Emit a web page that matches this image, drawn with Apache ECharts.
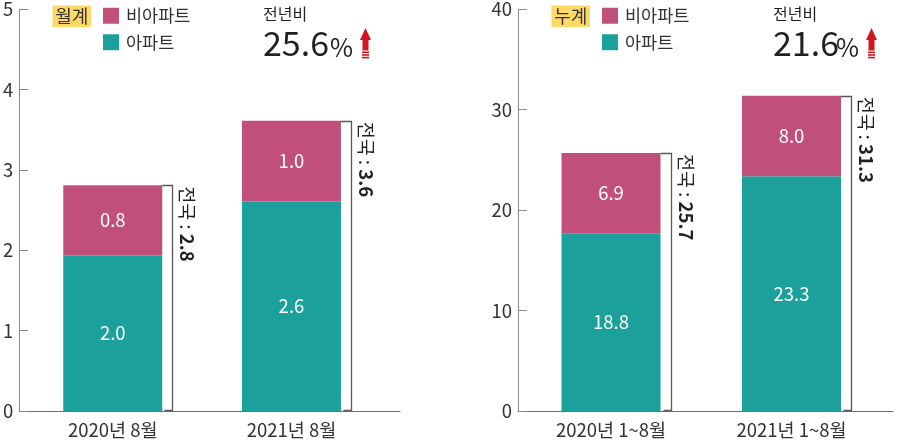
<!DOCTYPE html>
<html><head><meta charset="utf-8">
<script src="https://cdn.jsdelivr.net/npm/echarts@6/dist/echarts.min.js"></script>
<style>html,body{margin:0;padding:0;background:#fff}#c{width:900px;height:441px}</style>
</head><body><div id="c"></div>
<script>
const FONT = '"Noto Sans CJK KR", "Noto Sans", sans-serif';

// ---- data ----
const seriesNames = ['비아파트', '아파트'];
const monthCats = ['2020년 8월', '2021년 8월'];
const monthApt = [1.93, 2.6];
const monthNonApt = [0.87, 1.0];
const monthAptLabels = ['2.0', '2.6'];
const monthNonAptLabels = ['0.8', '1.0'];
const monthTotalLabels = ['2.8', '3.6'];
const monthYMax = 5, monthYStep = 1;

const cumCats = ['2020년 1~8월', '2021년 1~8월'];
const cumApt = [17.6, 23.3];
const cumNonApt = [8.0, 8.0];
const cumAptLabels = ['18.8', '23.3'];
const cumNonAptLabels = ['6.9', '8.0'];
const cumTotalLabels = ['25.7', '31.3'];
const cumYMax = 40, cumYStep = 10;

const periodTags = ['월계', '누계'];
const yoyTitle = '전년비';
const yoyValues = ['25.6', '21.6'];

const APT = '#1BA09C', NON = '#C0507A', TXT = '#231f20';

function bracketRender(labels) {
  return function (params, api) {
    const i = api.value(0);
    const top = api.coord([i, api.value(1)]);
    const base = api.coord([i, 0]);
    const half = 49.5;
    const bx = Math.round(top[0] + half + 10) + 0.5;
    const ty = Math.round(top[1]) + 0.5;
    const by = Math.round(base[1]) - 0.5;
    return {
      type: 'group',
      children: [
        { type: 'polyline',
          shape: { points: [[top[0] + half, ty], [bx, ty], [bx, by], [bx - 8, by]] },
          style: { stroke: '#5e5656', lineWidth: 1.3, fill: null } },
        { type: 'text', x: bx + 15, y: top[1] + 1, rotation: -Math.PI / 2,
          style: {
            text: '{a|전국 : }{b|' + labels[params.dataIndex] + '}',
            rich: {
              a: { fontSize: 18.5, fontFamily: FONT, fill: TXT },
              b: { fontSize: 18.5, fontFamily: FONT, fontWeight: 'bold', fill: TXT }
            },
            align: 'left', verticalAlign: 'middle'
          } }
      ]
    };
  };
}

function barLabel(arr) {
  return { show: true, position: 'inside', color: '#fff', fontSize: 18.5, fontFamily: FONT,
           formatter: p => arr[p.dataIndex] };
}

function frameX(gi) {
  return { gridIndex: gi, type: 'value', min: 0, max: 1,
    axisLine: { show: true, onZero: false, lineStyle: { color: '#766e6e', width: 1 } },
    axisTick: { show: false }, axisLabel: { show: false }, splitLine: { show: false } };
}
function catX(gi, cats) {
  return { gridIndex: gi, type: 'category', data: cats,
    axisLine: { show: false }, axisTick: { show: false },
    axisLabel: { fontSize: 18.5, color: '#333', margin: 10, fontFamily: FONT } };
}
function frameY(gi, max, step) {
  return { gridIndex: gi, type: 'value', min: 0, max: max, interval: step,
    axisLine: { show: true, onZero: false, lineStyle: { color: '#8c8c8c', width: 1 } },
    axisTick: { show: true, inside: true, length: 9, lineStyle: { color: '#8c8c8c' } },
    axisLabel: { fontSize: 18.5, color: '#333', margin: 6, fontFamily: FONT },
    splitLine: { show: false } };
}
function hiddenY(gi, max) {
  return { gridIndex: gi, type: 'value', min: 0, max: max, show: false, splitLine: { show: false } };
}

function header(boxX, yoyX, pctX, arrowX, tag, yoy) {
  return [
    { type: 'rect', shape: { x: boxX, y: 5.5, width: 38.5, height: 21.5 }, style: { fill: '#FFD966' } },
    { type: 'text', x: boxX + 19.25, y: 16.5, style: { text: tag, font: '18px ' + FONT, fill: '#333', align: 'center', verticalAlign: 'middle' } },
    { type: 'text', x: yoyX, y: 13.5, style: { text: yoyTitle, font: '16px ' + FONT, fill: TXT, align: 'left', verticalAlign: 'middle' } },
    { type: 'text', x: yoyX, y: 43, style: { text: yoy, font: '34px ' + FONT, fill: TXT, align: 'left', verticalAlign: 'middle' } },
    { type: 'text', x: pctX, y: 47, style: { text: '%', font: '25px ' + FONT, fill: TXT, align: 'left', verticalAlign: 'middle' } },
    { type: 'polygon', shape: { points: [[arrowX, 40], [arrowX + 5.5, 28], [arrowX + 11, 40]] }, style: { fill: '#D2151E' } },
    { type: 'rect', shape: { x: arrowX + 2.5, y: 39.5, width: 6, height: 11 }, style: { fill: '#D2151E' } },
    { type: 'rect', shape: { x: arrowX + 2, y: 51.5, width: 7, height: 1.6 }, style: { fill: '#D2151E' } },
    { type: 'rect', shape: { x: arrowX + 2, y: 54.2, width: 7, height: 1.6 }, style: { fill: '#D2151E' } },
    { type: 'rect', shape: { x: arrowX + 2, y: 56.8, width: 7, height: 1.6 }, style: { fill: '#D2151E' } }
  ];
}

const legendBase = { data: seriesNames, top: 7, orient: 'vertical', padding: 0, itemWidth: 16, itemHeight: 16, itemGap: 9,
  icon: 'rect', textStyle: { fontSize: 17.5, color: '#333', fontFamily: FONT, lineHeight: 16, padding: [0, 0, 0, 2] } };

const chart = echarts.init(document.getElementById('c'), null, { renderer: 'canvas' });
chart.setOption({
  animation: false,
  textStyle: { fontFamily: FONT },
  grid: [
    { left: 17, top: 8, width: 383, height: 403 },
    { left: 23.4, top: 8, width: 357.4, height: 403 },
    { left: 518, top: 8, width: 375, height: 403 },
    { left: 520.75, top: 8, width: 361, height: 403 }
  ],
  xAxis: [frameX(0), catX(1, monthCats), frameX(2), catX(3, cumCats)],
  yAxis: [frameY(0, monthYMax, monthYStep), hiddenY(1, monthYMax), frameY(2, cumYMax, cumYStep), hiddenY(3, cumYMax)],
  legend: [
    Object.assign({}, legendBase, { left: 103 }),
    Object.assign({}, legendBase, { left: 602 })
  ],
  graphic: header(52.5, 263, 330, 360, periodTags[0], yoyValues[0])
    .concat(header(551.5, 773, 836, 866, periodTags[1], yoyValues[1])),
  series: [
    { name: seriesNames[1], type: 'bar', xAxisIndex: 1, yAxisIndex: 1, stack: 'm', barWidth: 99,
      itemStyle: { color: APT }, data: monthApt, label: barLabel(monthAptLabels) },
    { name: seriesNames[0], type: 'bar', xAxisIndex: 1, yAxisIndex: 1, stack: 'm', barWidth: 99,
      itemStyle: { color: NON }, data: monthNonApt, label: barLabel(monthNonAptLabels) },
    { type: 'custom', xAxisIndex: 1, yAxisIndex: 1, renderItem: bracketRender(monthTotalLabels),
      data: monthApt.map((v, i) => [i, v + monthNonApt[i]]), silent: true },
    { name: seriesNames[1], type: 'bar', xAxisIndex: 3, yAxisIndex: 3, stack: 'c', barWidth: 99,
      itemStyle: { color: APT }, data: cumApt, label: barLabel(cumAptLabels) },
    { name: seriesNames[0], type: 'bar', xAxisIndex: 3, yAxisIndex: 3, stack: 'c', barWidth: 99,
      itemStyle: { color: NON }, data: cumNonApt, label: barLabel(cumNonAptLabels) },
    { type: 'custom', xAxisIndex: 3, yAxisIndex: 3, renderItem: bracketRender(cumTotalLabels),
      data: cumApt.map((v, i) => [i, v + cumNonApt[i]]), silent: true }
  ]
});
</script></body></html>
